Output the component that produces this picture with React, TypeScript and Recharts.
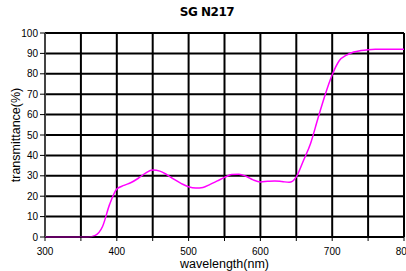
import React from 'react';
import { LineChart, Line, XAxis, YAxis, CartesianGrid } from 'recharts';

const wavelengths = [
  300, 310, 320, 330, 340, 350, 360, 370, 380, 390, 400, 410, 420, 430, 440, 450,
  460, 470, 480, 490, 500, 510, 520, 530, 540, 550, 560, 570, 580, 590, 600, 610,
  620, 630, 640, 650, 660, 670, 680, 690, 700, 710, 720, 730, 740, 750, 760, 770,
  780, 790, 800,
];
const transmittance = [
  0, 0, 0, 0, 0, 0, 0, 0.8, 5, 16, 23.5, 25.3, 26.7, 28.8, 31.3, 32.8,
  32.3, 30.5, 28.2, 26.2, 24.6, 24, 24.3, 25.8, 27.5, 29.2, 30.6, 30.8, 29.8, 28, 27, 27.3,
  27.5, 27.2, 26.8, 29.5, 37.5, 46, 58, 69.5, 79.5, 86.5, 89.2, 90.7, 91.4, 91.8, 92, 92,
  92, 92, 92,
];
const xTicks = [300, 350, 400, 450, 500, 550, 600, 650, 700, 750, 800];
const yTicks = [0, 10, 20, 30, 40, 50, 60, 70, 80, 90, 100];

const data = wavelengths.map((w, i) => ({ w, t: transmittance[i] }));

const font = 'Arial, "Liberation Sans", sans-serif';

const YLabel = (props: any) => {
  const vb = props.viewBox || {};
  const cx = 16;
  const cy = vb.y + vb.height / 2;
  return (
    <text x={cx} y={cy} transform={`rotate(-90, ${cx}, ${cy})`} textAnchor="middle"
      dominantBaseline="central" fontSize={12.5} fill="#000" fontFamily={font}>
      transmittance(%)
    </text>
  );
};

export default function App() {
  return (
    <div style={{ position: 'fixed', left: 0, top: 0, width: 406, height: 271, background: '#fff' }}>
      <div style={{
        position: 'absolute', left: 0, width: 414, top: 5, textAlign: 'center',
        fontFamily: 'Verdana, "DejaVu Sans", sans-serif', fontWeight: 'bold', fontSize: 12,
        letterSpacing: -0.5,
      }}>
        SG N217
      </div>
      <LineChart width={406} height={271} data={data} margin={{ top: 33, right: 2, bottom: 0, left: 0 }}>
        <CartesianGrid stroke="#000" strokeWidth={2} />
        <XAxis dataKey="w" type="number" domain={[300, 800]} ticks={xTicks} interval={0}
          tickFormatter={(v: number) => (v % 100 === 0 ? String(v) : '')}
          tick={{ fontSize: 10, fill: '#000', fontFamily: font }}
          stroke="#000" tickSize={4} tickMargin={7} height={34}
          label={{ value: 'wavelength(nm)', position: 'insideBottom', offset: 3, fontSize: 12.5, fill: '#000', fontFamily: font }}
        />
        <YAxis type="number" domain={[0, 100]} ticks={yTicks} interval={0} width={45}
          tick={{ fontSize: 10, fill: '#000', fontFamily: font }}
          stroke="#888" tickLine={{ stroke: '#000' }} tickSize={5}
          label={<YLabel />}
        />
        <Line type="monotone" dataKey="t" stroke="#ff00ff" strokeWidth={1.5} dot={false} isAnimationActive={false} />
      </LineChart>
    </div>
  );
}
